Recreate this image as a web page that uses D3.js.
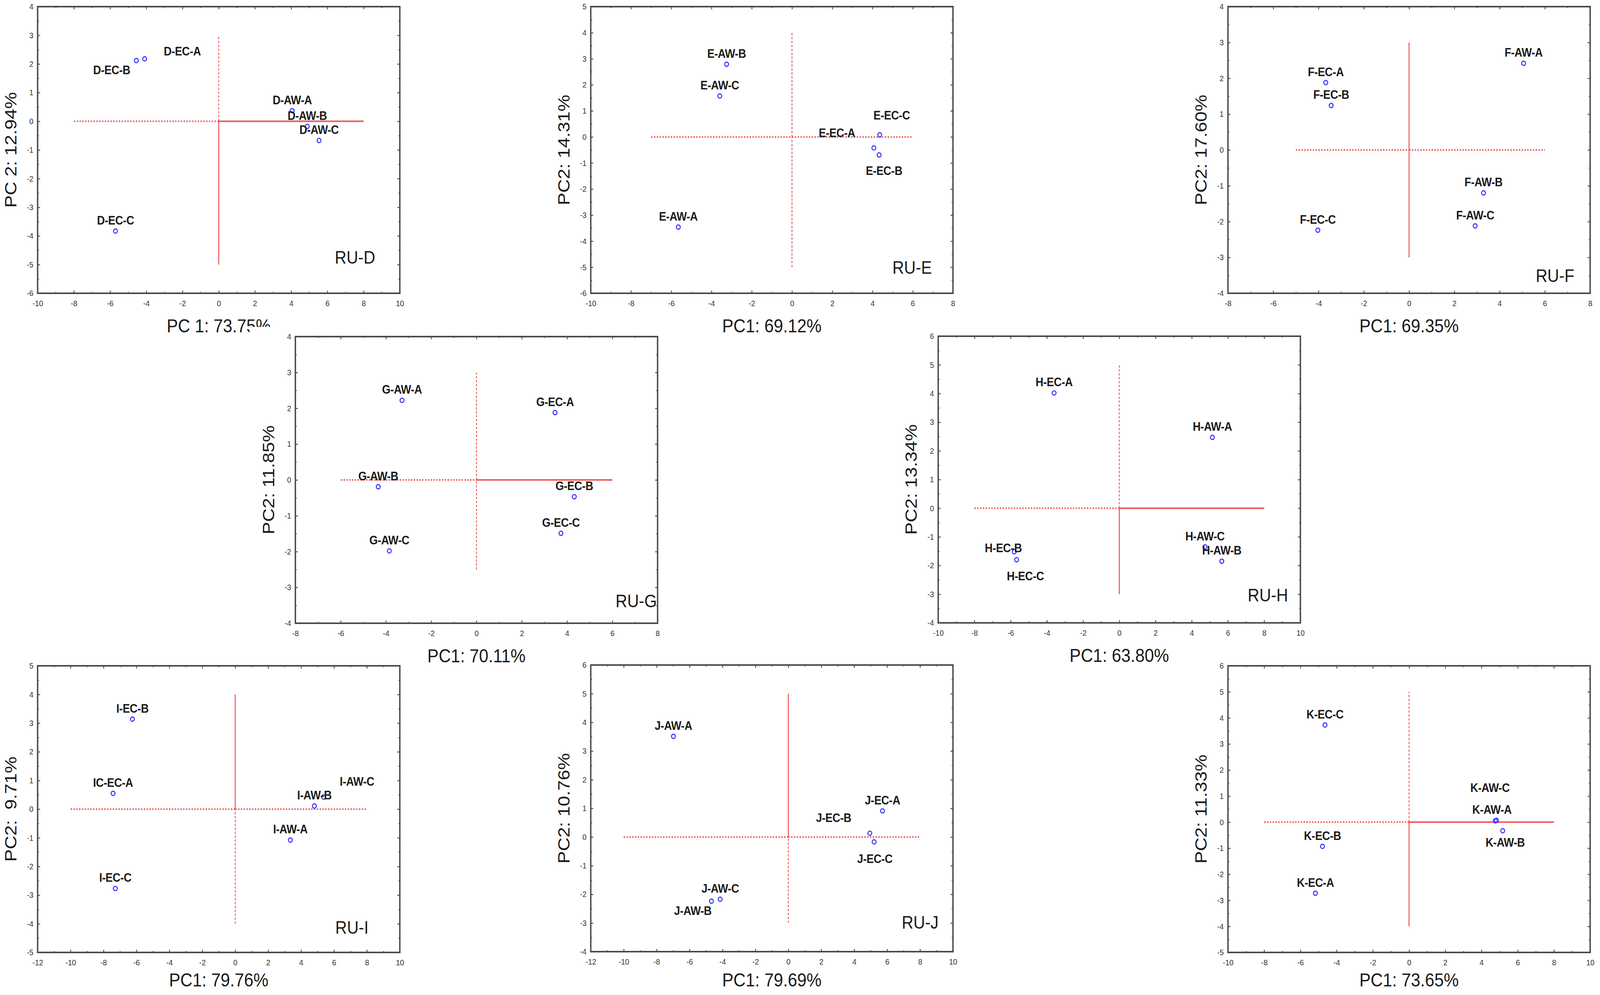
<!DOCTYPE html>
<html>
<head>
<meta charset="utf-8">
<script src="https://cdn.jsdelivr.net/npm/d3@7"></script>
<style>
  html, body { margin: 0; padding: 0; background: #fff; overflow: hidden; }
  svg { display: block; width: 100vw; height: 100vh; }
  text { font-family: "Liberation Sans", Arial, sans-serif; }
</style>
</head>
<body>
<svg id="chart" viewBox="0 0 4550 2548" preserveAspectRatio="none"></svg>
<script>
// panel tags and axis titles
const panelTags = ["RU-D", "RU-E", "RU-F", "RU-G", "RU-H", "RU-I", "RU-J", ""];
const xTitles = ["PC 1: 73.75%", "PC1: 69.12%", "PC1: 69.35%", "PC1: 70.11%",
                 "PC1: 63.80%", "PC1: 79.76%", "PC1: 79.69%", "PC1: 73.65%"];
const yTitles = ["PC 2: 12.94%", "PC2: 14.31%", "PC2: 17.60%", "PC2: 11.85%",
                 "PC2: 13.34%", "PC2:  9.71%", "PC2: 10.76%", "PC2: 11.33%"];

// axis ranges
const xDomains = [[-10, 10], [-10, 8], [-8, 8], [-8, 8], [-10, 10], [-12, 10], [-12, 10], [-10, 10]];
const yDomains = [[-6, 4], [-6, 5], [-4, 4], [-4, 4], [-4, 6], [-5, 5], [-4, 6], [-5, 6]];

// sample names and scores per panel
const sampleNames = [
  ["D-EC-A", "D-EC-B", "D-AW-A", "D-AW-B", "D-AW-C", "D-EC-C"],
  ["E-AW-A", "E-AW-B", "E-AW-C", "E-EC-A", "E-EC-B", "E-EC-C"],
  ["F-AW-A", "F-AW-B", "F-AW-C", "F-EC-A", "F-EC-B", "F-EC-C"],
  ["G-AW-A", "G-AW-B", "G-AW-C", "G-EC-A", "G-EC-B", "G-EC-C"],
  ["H-EC-A", "H-EC-B", "H-EC-C", "H-AW-A", "H-AW-B", "H-AW-C"],
  ["IC-EC-A", "I-EC-B", "I-EC-C", "I-AW-A", "I-AW-B", "I-AW-C"],
  ["J-AW-A", "J-AW-B", "J-AW-C", "J-EC-A", "J-EC-B", "J-EC-C"],
  ["K-EC-A", "K-EC-B", "K-EC-C", "K-AW-A", "K-AW-B", "K-AW-C"]
];
const pc1 = [
  [-4.09, -4.55, 4.06, 4.89, 5.54, -5.70],
  [-5.65, -3.25, -3.59, 4.07, 4.33, 4.36],
  [5.06, 3.29, 2.92, -3.68, -3.44, -4.03],
  [-3.29, -4.34, -3.85, 3.47, 4.32, 3.73],
  [-3.60, -5.80, -5.67, 5.14, 5.66, 4.73],
  [-7.42, -6.24, -7.28, 3.35, 4.81, 5.37],
  [-6.98, -4.67, -4.14, 5.72, 4.95, 5.21],
  [-5.17, -4.78, -4.64, 4.83, 5.17, 4.76]
];
const pc2 = [
  [2.18, 2.12, 0.37, -0.18, -0.67, -3.83],
  [-3.46, 2.79, 1.57, -0.42, -0.69, 0.08],
  [2.42, -1.20, -2.12, 1.88, 1.24, -2.24],
  [2.22, -0.19, -1.98, 1.88, -0.47, -1.49],
  [4.02, -1.52, -1.80, 2.47, -1.85, -1.35],
  [0.55, 3.14, -2.77, -1.08, 0.11, 0.42],
  [3.51, -2.24, -2.17, 0.91, 0.13, -0.17],
  [-2.73, -0.93, 3.73, 0.07, -0.33, 0.05]
];

// reference cross through the origin: [from, to] along PC1 and PC2
const hCross = [[-8, 8], [-7, 6], [-5, 6], [-6, 6], [-8, 8], [-10, 8], [-10, 8], [-8, 8]];
const vCross = [[-5, 3], [-5, 4], [-3, 3], [-2.5, 3], [-3, 5], [-4, 4], [-3, 5], [-4, 5]];

// ---- layout / styling ----
const frames = [
  [107, 17], [1680, 17], [3492, 17],
  [840, 862], [2668, 861],
  [107, 1705], [1680, 1703], [3492, 1705]
];
const frameW = 1030, frameH = 734;
// line style of [left, right] part of the horizontal and [top, bottom] part of the vertical
const hStyle = [["dash", "solid"], ["dash", "dash"], ["dash", "dash"], ["dash", "solid"],
                ["dash", "solid"], ["dash", "dash"], ["dash", "dash"], ["dash", "solid"]];
const vStyle = [["dash", "solid"], ["dash", "dash"], ["solid", "solid"], ["dash", "dash"],
                ["dash", "solid"], ["solid", "dash"], ["solid", "dash"], ["dash", "solid"]];
// tag position: distance of text end from frame right, of baseline from frame bottom
const tagPos = [[70, 76], [60, 50], [45, 29], [2, 41], [35, 55], [89, 48], [41, 59], [0, 0]];
// label centre offset from its point, px
const labelOffset = {
  "D-EC-A": [107, -20], "D-EC-B": [-70, 24],
  "E-EC-C": [34, -50], "E-EC-A": [-105, -39], "E-EC-B": [14, 40],
  "H-EC-B": [-31, -10], "H-EC-C": [25, 41],
  "I-AW-C": [95, -40],
  "J-EC-B": [-103, -40], "J-EC-C": [2, 43], "J-AW-B": [-53, 24],
  "K-AW-C": [-15, -85], "K-AW-A": [-13, -28], "K-AW-B": [7, 29]
};
const defaultOffset = [0, -28];

const RED = "#f05a5a";
const BLUE = "#3a3aff";
const PAGE_H = 2548;

const svg = d3.select('#chart');
svg.append('rect').attr('width', 4550).attr('height', PAGE_H).attr('fill', '#fff');

const fmt = d => String(d);

function range(a, b, step) {
    const out = [];
    for (let v = a; v <= b + 1e-9; v += step) out.push(+v.toFixed(2));
    return out;
}

function styleLine(sel, kind, horizontal) {
    if (kind === 'solid') {
        sel.attr('stroke-width', horizontal ? 4 : 3);
    } else {
        sel.attr('stroke-width', horizontal ? 4 : 2.5)
           .attr('stroke-dasharray', horizontal ? '4,4' : '6,4');
    }
}

frames.forEach((fr, i) => {
    const [fx, fy] = fr;
    // white backing of each panel picture (later panels overlap earlier titles)
    svg.append('rect')
        .attr('x', fx - 130).attr('y', fy - 25)
        .attr('width', frameW + 150).attr('height', frameH + 135)
        .attr('fill', '#fff');

    const g = svg.append('g').attr('transform', `translate(${fx},${fy})`);
    const x = d3.scaleLinear().domain(xDomains[i]).range([0, frameW]);
    const y = d3.scaleLinear().domain(yDomains[i]).range([frameH, 0]);

    const xMajor = range(xDomains[i][0], xDomains[i][1], 2);
    const xMinor = range(xDomains[i][0], xDomains[i][1], 1);
    const yMajor = range(yDomains[i][0], yDomains[i][1], 1);
    const yMinor = range(yDomains[i][0], yDomains[i][1], 0.5);

    // minor ticks, all four sides
    const minorAxes = [
        [d3.axisBottom(x).tickValues(xMinor), `translate(0,${frameH})`],
        [d3.axisTop(x).tickValues(xMinor), null],
        [d3.axisLeft(y).tickValues(yMinor), null],
        [d3.axisRight(y).tickValues(yMinor), `translate(${frameW},0)`]
    ];
    minorAxes.forEach(([ax, tr]) => {
        const a = g.append('g').call(ax.tickSize(-4).tickFormat(''));
        if (tr) a.attr('transform', tr);
        a.select('.domain').remove();
        a.selectAll('line').attr('stroke', '#555').attr('stroke-width', 2);
    });

    // major ticks with labels on bottom and left
    const xa = g.append('g').attr('transform', `translate(0,${frameH})`)
        .call(d3.axisBottom(x).tickValues(xMajor).tickSize(-7).tickPadding(18).tickFormat(fmt));
    const ya = g.append('g')
        .call(d3.axisLeft(y).tickValues(yMajor).tickSize(-7).tickPadding(12).tickFormat(fmt));
    const xt = g.append('g')
        .call(d3.axisTop(x).tickValues(xMajor).tickSize(-7).tickFormat(''));
    const yr = g.append('g').attr('transform', `translate(${frameW},0)`)
        .call(d3.axisRight(y).tickValues(yMajor).tickSize(-7).tickFormat(''));
    [xa, ya, xt, yr].forEach(a => {
        a.select('.domain').remove();
        a.selectAll('line').attr('stroke', '#555').attr('stroke-width', 2.5);
        a.selectAll('text').attr('font-size', 21).attr('fill', '#333')
            .attr('font-family', '"Liberation Sans", Arial, sans-serif');
    });

    // frame
    g.append('rect').attr('width', frameW).attr('height', frameH)
        .attr('fill', 'none').attr('stroke', '#4a4a4a').attr('stroke-width', 4);

    // reference cross
    const hz = [[hCross[i][0], 0], [0, hCross[i][1]]];
    hz.forEach((seg, k) => {
        const ln = g.append('line')
            .attr('x1', x(seg[0])).attr('x2', x(seg[1]))
            .attr('y1', y(0)).attr('y2', y(0))
            .attr('stroke', RED);
        styleLine(ln, hStyle[i][k], true);
    });
    const vt = [[0, vCross[i][1]], [vCross[i][0], 0]];
    vt.forEach((seg, k) => {
        const ln = g.append('line')
            .attr('x1', x(0)).attr('x2', x(0))
            .attr('y1', y(seg[0])).attr('y2', y(seg[1]))
            .attr('stroke', RED);
        styleLine(ln, vStyle[i][k], false);
    });

    // points
    const pts = sampleNames[i].map((n, k) => ({ name: n, a: pc1[i][k], b: pc2[i][k] }));
    g.selectAll('circle.pt').data(pts).enter().append('circle')
        .attr('class', 'pt')
        .attr('cx', d => x(d.a)).attr('cy', d => y(d.b))
        .attr('r', 5.5)
        .attr('fill', 'none').attr('stroke', BLUE).attr('stroke-width', 3);

    g.selectAll('text.lbl').data(pts).enter().append('text')
        .attr('class', 'lbl')
        .attr('x', d => x(d.a) + (labelOffset[d.name] || defaultOffset)[0])
        .attr('y', d => y(d.b) + (labelOffset[d.name] || defaultOffset)[1])
        .attr('dy', '0.36em')
        .attr('text-anchor', 'middle')
        .attr('font-size', 31).attr('font-weight', 'bold')
        .attr('letter-spacing', -0.5)
        .attr('fill', '#1a1a1a')
        .text(d => d.name);

    // panel tag
    if (panelTags[i]) {
        g.append('text')
            .attr('x', frameW - tagPos[i][0]).attr('y', frameH - tagPos[i][1])
            .attr('text-anchor', 'end')
            .attr('font-size', 46).attr('fill', '#1a1a1a')
            .text(panelTags[i]);
    }

    // axis titles (keep the bottom row clear of the page edge)
    const titleY = Math.min(frameH + 100, PAGE_H - 22 - fy);
    g.append('text')
        .attr('x', frameW / 2).attr('y', titleY)
        .attr('text-anchor', 'middle')
        .attr('font-size', 48).attr('fill', '#1a1a1a')
        .text(xTitles[i]);
    g.append('text')
        .attr('transform', `translate(-78,${frameH / 2}) rotate(-90)`)
        .attr('dy', '0.36em')
        .attr('text-anchor', 'middle')
        .attr('font-size', 48).attr('fill', '#1a1a1a')
        .style('white-space', 'pre')
        .text(yTitles[i]);
});
</script>
</body>
</html>
